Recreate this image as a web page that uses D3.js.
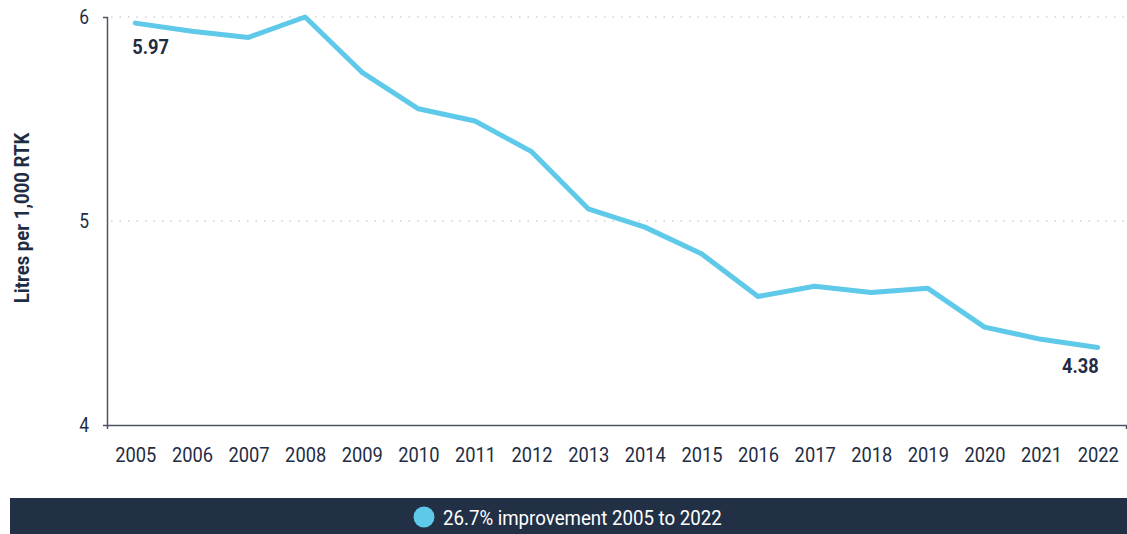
<!DOCTYPE html>
<html>
<head>
<meta charset="utf-8">
<script src="https://cdn.jsdelivr.net/npm/d3@7"></script>
<style>
  body { margin: 0; background: #fff; }
  svg text { font-family: Roboto, "Liberation Sans", sans-serif; }
</style>
</head>
<body>
<div id="chart"></div>
<script>
// data
var years = ["2005","2006","2007","2008","2009","2010","2011","2012","2013",
             "2014","2015","2016","2017","2018","2019","2020","2021","2022"];
var litres = [5.97, 5.93, 5.90, 6.00, 5.73, 5.55, 5.49, 5.34, 5.06,
              4.97, 4.84, 4.63, 4.68, 4.65, 4.67, 4.48, 4.42, 4.38];
var yTicks = [4, 5, 6];
var legendText = "26.7% improvement 2005 to 2022";
var yTitle = "Litres per 1,000 RTK";

var W = 1127, H = 534;
var margin = {top: 17, right: 1, bottom: 109, left: 107},
    width = W - margin.left - margin.right,
    height = H - margin.top - margin.bottom;

var navy = "#1f2d44", lineCol = "#5ec9e8", axisCol = "#4b5364";

// no condensed font here, so narrow the text a bit
function squeeze(sel, s, origin) {
  sel.style("transform-box", "fill-box")
     .style("transform-origin", origin)
     .style("transform", "scaleX(" + s + ")");
}

var svg = d3.select("#chart")
  .append("svg")
    .attr("width", W)
    .attr("height", H);

var g = svg.append("g")
    .attr("transform", "translate(" + margin.left + "," + margin.top + ")");

var x = d3.scalePoint()
    .domain(years)
    .range([0, width])
    .padding(0.5);

var y = d3.scaleLinear()
    .domain([4, 6])
    .range([height, 0]);

// dotted gridlines
g.selectAll(".grid")
  .data(yTicks.filter(function(d) { return d > 4; }))
  .enter().append("line")
    .attr("x1", 4)
    .attr("x2", width)
    .attr("y1", function(d) { return y(d); })
    .attr("y2", function(d) { return y(d); })
    .attr("stroke", "#b5b9c0")
    .attr("stroke-width", 1)
    .attr("stroke-dasharray", "1.5,7");

// y axis
var yAxis = g.append("g")
    .call(d3.axisLeft(y).tickValues(yTicks).tickSize(0).tickSizeOuter(4).tickPadding(18).tickFormat(d3.format("d")));
yAxis.select(".domain").attr("stroke", axisCol).attr("stroke-width", 1.5);
yAxis.selectAll("text")
    .attr("fill", navy)
    .style("font-size", "20px")
    .call(squeeze, 0.87, "right");

// x axis
var xAxis = g.append("g")
    .attr("transform", "translate(0," + height + ")")
    .call(d3.axisBottom(x).tickSize(0).tickSizeOuter(4).tickPadding(22));
xAxis.select(".domain").attr("stroke", axisCol).attr("stroke-width", 1.5);
xAxis.selectAll("text")
    .attr("fill", navy)
    .style("font-size", "21px")
    .call(squeeze, 0.87, "center");

// y title
svg.append("g")
    .attr("transform", "translate(29," + (margin.top + height / 2 - 3) + ") rotate(-90)")
  .append("text")
    .attr("text-anchor", "middle")
    .attr("fill", navy)
    .style("font-size", "20px")
    .style("font-weight", "bold")
    .call(squeeze, 0.93, "center")
    .text(yTitle);

// the line
g.append("path")
    .datum(litres)
    .attr("fill", "none")
    .attr("stroke", lineCol)
    .attr("stroke-width", 5)
    .attr("stroke-linejoin", "round")
    .attr("stroke-linecap", "round")
    .attr("d", d3.line()
      .x(function(d, i) { return x(years[i]); })
      .y(function(d) { return y(d); }));

// end labels
var last = litres.length - 1;
g.append("text")
    .attr("x", x(years[0]) - 3)
    .attr("y", y(litres[0]) + 31)
    .attr("fill", navy)
    .style("font-size", "21px")
    .style("font-weight", "bold")
    .call(squeeze, 0.87, "left")
    .text(d3.format(".2f")(litres[0]));
g.append("text")
    .attr("x", x(years[last]) + 1)
    .attr("y", y(litres[last]) + 26)
    .attr("text-anchor", "end")
    .attr("fill", navy)
    .style("font-size", "21px")
    .style("font-weight", "bold")
    .call(squeeze, 0.87, "right")
    .text(d3.format(".2f")(litres[last]));

// legend bar
var leg = svg.append("g").attr("transform", "translate(10,498)");
leg.append("rect")
    .attr("width", W - 10)
    .attr("height", H - 498)
    .attr("fill", "#223045");
leg.append("circle")
    .attr("cx", 414)
    .attr("cy", 19)
    .attr("r", 10.5)
    .attr("fill", lineCol);
leg.append("text")
    .attr("x", 433)
    .attr("y", 27)
    .attr("fill", "#fff")
    .style("font-size", "21px")
    .call(squeeze, 0.89, "left")
    .text(legendText);
</script>
</body>
</html>
